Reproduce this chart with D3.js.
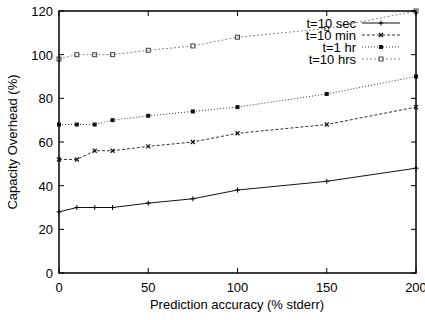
<!DOCTYPE html>
<html>
<head>
<meta charset="utf-8">
<script src="https://cdn.jsdelivr.net/npm/d3@7"></script>
<style>
  body { margin: 0; background: #fff; }
  svg text { font-family: "Liberation Sans", Arial, sans-serif; fill: #000; }
</style>
</head>
<body>
<svg id="chart" width="425" height="320"></svg>
<script>
// data
var accuracy = [0, 10, 20, 30, 50, 75, 100, 150, 200];
var sec10 = [28, 30, 30, 30, 32, 34, 38, 42, 48];
var min10 = [52, 52, 56, 56, 58, 60, 64, 68, 76];
var hr1 = [68, 68, 68, 70, 72, 74, 76, 82, 90];
var hrs10 = [98, 100, 100, 100, 102, 104, 108, 112, 120];
var seriesNames = ["t=10 sec", "t=10 min", "t=1 hr", "t=10 hrs"];
var xTicks = [0, 50, 100, 150, 200];
var yTicks = [0, 20, 40, 60, 80, 100, 120];

var svg = d3.select("#chart");
var PL = 59, PR = 416, PT = 11, PB = 273;

var x = d3.scaleLinear().domain([0, 200]).range([PL, PR]);
var y = d3.scaleLinear().domain([0, 120]).range([PB, PT]);

var styles = [
  {color: "#111", dash: null, width: 1, marker: "plus"},
  {color: "#333", dash: "3,2", width: 1, marker: "cross"},
  {color: "#333", dash: "1,2", width: 1, marker: "fsquare"},
  {color: "#888", dash: "2,2", width: 1, marker: "osquare"}
];
var allSeries = [sec10, min10, hr1, hrs10];

var line = d3.line().x(function (d, i) {return x(accuracy[i]);}).y(function (d) {return y(d);});

function drawMarker(g, type, cx, cy, color) {
  if (type == "plus") {
    g.append("path").attr("d", "M" + (cx - 2.5) + "," + cy + "h5M" + cx + "," + (cy - 2.5) + "v5")
      .attr("stroke", "#000").attr("stroke-width", 1);
  } else if (type == "cross") {
    g.append("path").attr("d", "M" + (cx - 2) + "," + (cy - 2) + "l4,4M" + (cx - 2) + "," + (cy + 2) + "l4,-4")
      .attr("stroke", "#111").attr("stroke-width", 1.2);
  } else if (type == "fsquare") {
    g.append("rect").attr("x", cx - 2).attr("y", cy - 2).attr("width", 4).attr("height", 4)
      .attr("fill", "#111");
  } else {
    g.append("rect").attr("x", cx - 2).attr("y", cy - 2).attr("width", 4).attr("height", 4)
      .attr("fill", "none").attr("stroke", "#444").attr("stroke-width", 1);
  }
}

// series
allSeries.forEach(function (vals, s) {
  var st = styles[s];
  var g = svg.append("g");
  g.append("path").datum(vals).attr("d", line)
    .attr("fill", "none").attr("stroke", st.color)
    .attr("stroke-width", st.width).attr("stroke-dasharray", st.dash);
  vals.forEach(function (v, i) {drawMarker(g, st.marker, x(accuracy[i]), y(v), st.color);});
});

// frame and inward ticks on all sides
var axes = svg.append("g");
axes.append("rect").attr("x", PL).attr("y", PT).attr("width", PR - PL).attr("height", PB - PT)
  .attr("fill", "none").attr("stroke", "#000").attr("stroke-width", 1.5);

xTicks.forEach(function (t) {
  axes.append("line").attr("x1", x(t)).attr("x2", x(t)).attr("y1", PB).attr("y2", PB - 5).attr("stroke", "#000");
  axes.append("line").attr("x1", x(t)).attr("x2", x(t)).attr("y1", PT).attr("y2", PT + 5).attr("stroke", "#000");
  axes.append("text").attr("x", x(t)).attr("y", PB + 19).attr("text-anchor", "middle")
    .attr("font-size", 13).text(t);
});
yTicks.forEach(function (t) {
  axes.append("line").attr("x1", PL).attr("x2", PL + 5).attr("y1", y(t)).attr("y2", y(t)).attr("stroke", "#000");
  axes.append("line").attr("x1", PR).attr("x2", PR - 5).attr("y1", y(t)).attr("y2", y(t)).attr("stroke", "#000");
  axes.append("text").attr("x", PL - 6).attr("y", y(t) + 5).attr("text-anchor", "end")
    .attr("font-size", 13).text(t);
});

svg.append("text").attr("x", 237).attr("y", 309).attr("text-anchor", "middle")
  .attr("font-size", 13).text("Prediction accuracy (% stderr)");
svg.append("text").attr("transform", "translate(17," + ((PT + PB) / 2) + ") rotate(-90)")
  .attr("text-anchor", "middle").attr("font-size", 13).text("Capacity Overhead (%)");

// legend
var legend = svg.append("g");
seriesNames.forEach(function (name, s) {
  var ly = 23 + s * 12;
  var st = styles[s];
  legend.append("text").attr("x", 356).attr("y", ly + 4.5).attr("text-anchor", "end")
    .attr("font-size", 13).text(name);
  legend.append("line").attr("x1", 362).attr("x2", 400).attr("y1", ly).attr("y2", ly)
    .attr("stroke", st.color).attr("stroke-width", st.width).attr("stroke-dasharray", st.dash);
  drawMarker(legend, st.marker, 381, ly, st.color);
});
</script>
</body>
</html>
